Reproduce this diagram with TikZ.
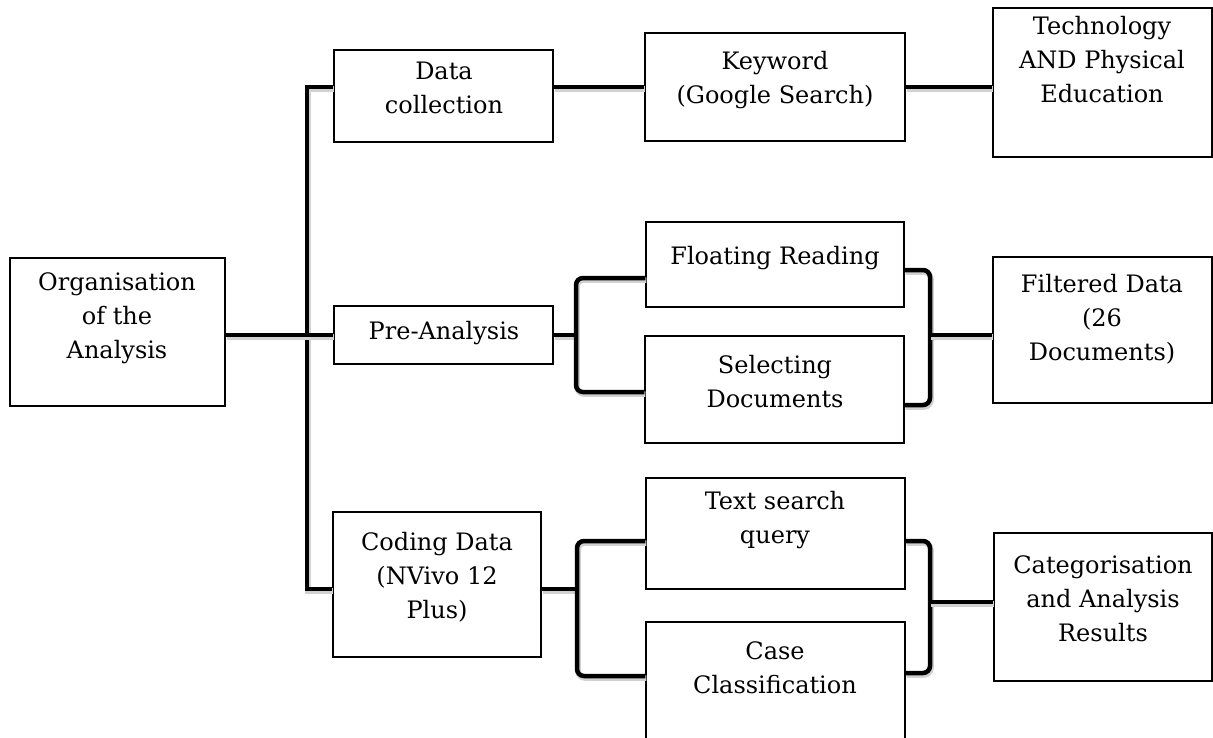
\documentclass[tikz,border=0pt]{standalone}
\usepackage{fontspec}
\setmainfont{DejaVu Serif}
\usetikzlibrary{fit}
\begin{document}
\begin{tikzpicture}[x=1pt,y=-1pt,
  box/.style={draw=black, line width=1.4pt, inner sep=0pt, fill=white},
  txt/.style={align=center, font=\fontsize{24}{34}\selectfont, inner sep=0pt},
  shad/.style={preaction={draw=black!18, line width=5.5pt, transform canvas={shift={(1pt,-2pt)}}}},
  conn/.style={line width=4.5pt, line join=miter, shad},
  brk/.style={line width=4.5pt, rounded corners=7pt, shad}]
\useasboundingbox (0,0) rectangle (1213,737);
\clip (0,0) rectangle (1213,737);
% boxes
\node[box, fit={(10,258)(225,406)}] (org) {};
\node[box, fit={(334,50)(553,142)}] (dc) {};
\node[box, fit={(334,306)(553,364)}] (pre) {};
\node[box, fit={(333,512)(541,657)}] (cod) {};
\node[box, fit={(645,33)(905,141)}] (kw) {};
\node[box, fit={(646,222)(904,307)}] (fl) {};
\node[box, fit={(645,336)(904,443)}] (sel) {};
\node[box, fit={(646,478)(905,589)}] (ts) {};
\node[box, fit={(646,622)(905,760)}] (cc) {};
\node[box, fit={(993,8)(1212,157)}] (tech) {};
\node[box, fit={(993,257)(1212,403)}] (fil) {};
\node[box, fit={(994,533)(1212,681)}] (cat) {};
% texts
\node[txt] (org-t) at (117,318) {Organisation\\of the\\Analysis};
\node[txt] (dc-t) at (444,88) {Data\\collection};
\node[txt] (pre-t) at (444,333) {Pre-Analysis};
\node[txt] (cod-t) at (437,577) {Coding Data\\(NVivo 12\\Plus)};
\node[txt] (kw-t) at (775,80) {Keyword\\(Google Search)};
\node[txt] (fl-t) at (775,258) {Floating Reading};
\node[txt] (sel-t) at (775,382) {Selecting\\Documents};
\node[txt] (ts-t) at (775,520) {Text search\\query};
\node[txt] (cc-t) at (775,668) {Case\\Classification};
\node[txt] (tech-t) at (1102,60) {Technology\\AND Physical\\Education};
\node[txt] (fil-t) at (1102,319) {Filtered Data\\(26\\Documents)};
\node[txt] (cat-t) at (1103,599) {Categorisation\\and Analysis\\Results};
% junction coordinates
\coordinate (vt) at (307,87);
\coordinate (vb) at (307,589);
\coordinate (vm) at (307,335);
\coordinate (pb1) at (576,278);
\coordinate (pb2) at (576,392);
\coordinate (pm) at (576,335);
\coordinate (qb1) at (930,270);
\coordinate (qb2) at (930,405);
\coordinate (qm) at (930,335);
\coordinate (cb1) at (577,541);
\coordinate (cb2) at (577,676);
\coordinate (cm) at (577,589);
\coordinate (db1) at (930,541);
\coordinate (db2) at (930,673);
\coordinate (dm) at (930,602);
% connectors
\draw[conn] (dc.west |- vt) -- (vt) -- (vb) -- (cod.west |- vb);
\draw[conn] (org.east |- vm) -- (pre.west |- vm);
\draw[conn] (dc.east |- vt) -- (kw.west |- vt);
\draw[conn] (kw.east |- vt) -- (tech.west |- vt);
\draw[conn] (pre.east |- pm) -- (pm);
\draw[brk] (fl.west |- pb1) -- (pb1) -- (pb2) -- (sel.west |- pb2);
\draw[brk] (fl.east |- qb1) -- (qb1) -- (qb2) -- (sel.east |- qb2);
\draw[conn] (qm) -- (fil.west |- qm);
\draw[conn] (cod.east |- cm) -- (cm);
\draw[brk] (ts.west |- cb1) -- (cb1) -- (cb2) -- (cc.west |- cb2);
\draw[brk] (ts.east |- db1) -- (db1) -- (db2) -- (cc.east |- db2);
\draw[conn] (dm) -- (cat.west |- dm);
\end{tikzpicture}
\end{document}
